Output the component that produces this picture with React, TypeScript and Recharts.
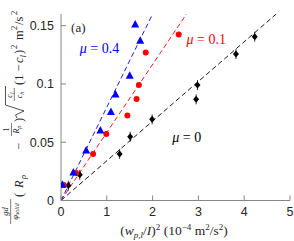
import React from 'react';
import {
  ComposedChart, XAxis, YAxis, Scatter, Line, ReferenceDot, Customized,
} from 'recharts';

// ---- data ----
const blueX = [0.03, 0.27, 0.55, 0.86, 1.09, 1.19, 1.50, 1.73, 1.62];
const blueY = [0.0135, 0.024, 0.043, 0.060, 0.076, 0.091, 0.107, 0.137, 0.151];
const redX = [0.06, 0.33, 0.70, 0.99, 1.45, 1.65, 1.70, 1.85, 2.57];
const redY = [0.0133, 0.0236, 0.040, 0.057, 0.073, 0.087, 0.099, 0.127, 0.1425];
const blackX = [0.16, 0.41, 1.28, 1.51, 1.99, 2.95, 2.98, 3.82, 4.23];
const blackY = [0.0128, 0.022, 0.040, 0.0547, 0.0696, 0.0868, 0.099, 0.1256, 0.1405];

// fit lines (start, end where they leave the top of the axes)
const blueFitX = [0, 2.0];
const blueFitY = [0, 0.16];
const redFitX = [0, 2.74];
const redFitY = [0, 0.16];
const blackFitX = [0, 4.70];
const blackFitY = [0, 0.16];

const xTicks = [0, 1, 2, 3, 4, 5];
const yTicks = [0, 0.05, 0.1, 0.15];
const yTickLabels = ['0', '0.05', '0.1', '0.15'];

const toPts = (xs: number[], ys: number[]) => xs.map((x, i) => ({ x, y: ys[i] }));

const BLUE = '#0000ff';
const RED = '#ff0000';
const AX = '#868686';
const TXT = '#262626';
const SERIF = '"Liberation Serif", "DejaVu Serif", serif';
const SANS = '"Liberation Sans", Arial, sans-serif';

const Triangle = (p: any) => (
  <polygon points={`${p.cx},${p.cy - 4.5} ${p.cx - 4},${p.cy + 3} ${p.cx + 4},${p.cy + 3}`} fill={BLUE} />
);
const Circle = (p: any) => <circle cx={p.cx} cy={p.cy} r={3} fill={RED} />;
const Diamond = (p: any) => (
  <g>
    <line x1={p.cx} x2={p.cx} y1={p.cy - 5} y2={p.cy + 5} stroke="#000" strokeWidth={0.8} />
    <polygon points={`${p.cx},${p.cy - 3.5} ${p.cx + 3},${p.cy} ${p.cx},${p.cy + 3.5} ${p.cx - 3},${p.cy}`} fill="#000" />
  </g>
);

const MuLabel = (color: string, value: string) => (p: any) => (
  <text x={p.cx} y={p.cy} fill={color} fontFamily={SERIF} fontSize={14}>
    <tspan fontStyle="italic">μ</tspan>
    <tspan> = {value}</tspan>
  </text>
);

const PanelLabel = (p: any) => (
  <text x={p.cx} y={p.cy} fill={TXT} fontFamily={SERIF} fontSize={13}>(a)</text>
);

// small text helper in rotated local frame
const T = ({ x, y, s, it, anchor, children }: any) => (
  <text x={x} y={y} fontSize={s} fontStyle={it ? 'italic' : 'normal'} textAnchor={anchor || 'start'}
    fontFamily={SERIF} fill={TXT}>{children}</text>
);

const AxisLabels = () => (
  <g>
    {/* x label */}
    <text x={174} y={235} textAnchor="middle" fontFamily={SERIF} fontSize={13.5} fill={TXT}>
      <tspan>(</tspan>
      <tspan fontStyle="italic">w</tspan>
      <tspan fontStyle="italic" fontSize={9} dy={3}>p,l</tspan>
      <tspan dy={-3}>/</tspan>
      <tspan fontStyle="italic">I</tspan>
      <tspan>)</tspan>
      <tspan fontSize={9} dy={-5}>2</tspan>
      <tspan dy={5}> (10</tspan>
      <tspan fontSize={9} dy={-5}>−4</tspan>
      <tspan dy={5}> m</tspan>
      <tspan fontSize={9} dy={-5}>2</tspan>
      <tspan dy={5}>/s</tspan>
      <tspan fontSize={9} dy={-5}>2</tspan>
      <tspan dy={5}>)</tspan>
    </text>
    {/* y label, rotated */}
    <g transform="translate(23,239) rotate(-90)">
      {/* gd / phi_solid */}
      <T x={27.5} y={-15} s={8.5} it anchor="middle">gd</T>
      <line x1={15} x2={40} y1={-12.3} y2={-12.3} stroke={TXT} strokeWidth={0.6} />
      <text x={27.5} y={-5.5} textAnchor="middle" fontFamily={SERIF} fill={TXT} fontStyle="italic">
        <tspan fontSize={8.5}>φ</tspan>
        <tspan fontSize={6} dy={1.5}>solid</tspan>
      </text>
      <T x={42} y={0} s={12.5}>(</T>
      <T x={51} y={0} s={12.5} it>R</T>
      <T x={60} y={3} s={8.5} it>ρ</T>
      <T x={89} y={0} s={12.5}>−</T>
      {/* 1 / R_rho */}
      <T x={109.5} y={-14} s={8} anchor="middle">1</T>
      <line x1={103} x2={116} y1={-11.5} y2={-11.5} stroke={TXT} strokeWidth={0.6} />
      <text x={109.5} y={-4} textAnchor="middle" fontFamily={SERIF} fill={TXT} fontStyle="italic">
        <tspan fontSize={8}>R</tspan>
        <tspan fontSize={6} dy={1.5}>ρ</tspan>
      </text>
      <T x={117} y={0} s={12.5}>)</T>
      {/* sqrt */}
      <path d="M121,-6 L124,-7.5 L128,1 L134,-17.5 L153,-17.5" fill="none" stroke={TXT} strokeWidth={0.8} />
      <text x={144} y={-11} textAnchor="middle" fontFamily={SERIF} fill={TXT} fontStyle="italic">
        <tspan fontSize={8}>c</tspan>
        <tspan fontSize={6} dy={1.5}>l</tspan>
      </text>
      <line x1={138} x2={151} y1={-8.7} y2={-8.7} stroke={TXT} strokeWidth={0.6} />
      <text x={144} y={-1} textAnchor="middle" fontFamily={SERIF} fill={TXT} fontStyle="italic">
        <tspan fontSize={8}>c</tspan>
        <tspan fontSize={6} dy={1.5}>h</tspan>
      </text>
      <T x={154} y={0} s={12.5}>(1 −</T>
      <T x={176} y={0} s={12.5} it>c</T>
      <T x={181.5} y={3} s={8.5} it>l</T>
      <T x={185} y={0} s={12.5}>)</T>
      <T x={190} y={-6} s={8.5}>2</T>
      <T x={199} y={0} s={12.5}>m</T>
      <T x={209} y={-6} s={8.5}>2</T>
      <T x={214} y={0} s={12.5}>/s</T>
      <T x={224} y={-6} s={8.5}>2</T>
    </g>
  </g>
);

export default function App() {
  return (
    <div style={{ position: 'absolute', left: 0, top: 0, width: 294, height: 241, background: '#fff' }}>
      <ComposedChart width={294} height={241} margin={{ top: 14, right: 4, bottom: 0, left: 0 }}>
        <XAxis type="number" dataKey="x" domain={[0, 5]} ticks={xTicks} allowDataOverflow
          height={40.5} tickSize={-5} tickMargin={11.5} stroke={AX}
          tick={{ fill: TXT, fontSize: 12.5, fontFamily: SANS }} interval={0} />
        <XAxis xAxisId="top" orientation="top" type="number" dataKey="x" domain={[0, 5]} ticks={xTicks}
          allowDataOverflow height={0} tickSize={-5} tick={false} stroke={AX} />
        <YAxis type="number" dataKey="y" domain={[0, 0.16]} ticks={yTicks} allowDataOverflow
          width={61} tickSize={-5} tickMargin={12} stroke={AX} interval={0}
          tickFormatter={(v: number) => yTickLabels[yTicks.indexOf(v)] ?? String(v)}
          tick={{ fill: TXT, fontSize: 12.5, fontFamily: SANS }} />
        <YAxis yAxisId="right" orientation="right" type="number" dataKey="y" domain={[0, 0.16]} ticks={yTicks}
          allowDataOverflow width={0} tickSize={-5} tick={false} stroke={AX} />
        <Line data={toPts(blackFitX, blackFitY)} dataKey="y" type="linear" stroke="#000" strokeWidth={0.9}
          strokeDasharray="5 3" dot={false} isAnimationActive={false} />
        <Line data={toPts(redFitX, redFitY)} dataKey="y" type="linear" stroke={RED} strokeWidth={0.9}
          strokeDasharray="5 3" dot={false} isAnimationActive={false} />
        <Line data={toPts(blueFitX, blueFitY)} dataKey="y" type="linear" stroke={BLUE} strokeWidth={0.9}
          strokeDasharray="5 3" dot={false} isAnimationActive={false} />
        <Scatter data={toPts(blackX, blackY)} dataKey="y" shape={Diamond} isAnimationActive={false} />
        <Scatter data={toPts(redX, redY)} dataKey="y" shape={Circle} isAnimationActive={false} />
        <Scatter data={toPts(blueX, blueY)} dataKey="y" shape={Triangle} isAnimationActive={false} />
        <ReferenceDot x={0.41} y={0.1265} shape={MuLabel(BLUE, '0.4')} />
        <ReferenceDot x={2.74} y={0.134} shape={MuLabel(RED, '0.1')} />
        <ReferenceDot x={2.43} y={0.050} shape={MuLabel('#000', '0')} />
        <ReferenceDot x={0.22} y={0.1445} shape={PanelLabel} />
        <Customized component={<AxisLabels />} />
      </ComposedChart>
    </div>
  );
}
